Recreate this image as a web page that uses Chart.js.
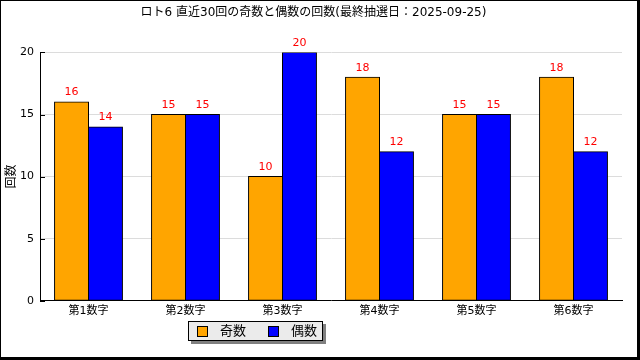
<!DOCTYPE html>
<html>
<head>
<meta charset="utf-8">
<script src="https://cdn.jsdelivr.net/npm/chart.js@4"></script>
<style>
  html, body { margin: 0; padding: 0; background: #fff; }
  #wrap { width: 640px; height: 360px; position: relative; }
</style>
</head>
<body>
<div id="wrap"><canvas id="oddEvenChart"></canvas></div>
<script>
const categories = ['第1数字', '第2数字', '第3数字', '第4数字', '第5数字', '第6数字'];
const oddCounts = [16, 15, 10, 18, 15, 18];
const evenCounts = [14, 15, 20, 12, 15, 12];
const seriesNames = ['奇数', '偶数'];
const yTicks = [0, 5, 10, 15, 20];

const fontFamily = '"DejaVu Sans", "Noto Sans CJK JP", sans-serif';

// red numbers above each bar
const valueLabels = {
    id: 'valueLabels',
    afterDatasetsDraw(chart) {
        const ctx = chart.ctx;
        ctx.save();
        ctx.fillStyle = '#ff0000';
        ctx.font = '11px ' + fontFamily;
        ctx.textAlign = 'center';
        ctx.textBaseline = 'bottom';
        chart.data.datasets.forEach((ds, i) => {
            chart.getDatasetMeta(i).data.forEach((bar, j) => {
                ctx.fillText(ds.data[j], bar.x, bar.y - 4);
            });
        });
        ctx.restore();
    }
};

// frame, boxed legend with shadow, inward y ticks
const decorations = {
    id: 'decorations',
    afterDraw(chart) {
        const ctx = chart.ctx;
        const yScale = chart.scales.y;
        const left = chart.chartArea.left;
        ctx.save();
        ctx.strokeStyle = '#000';
        ctx.lineWidth = 1;
        ctx.beginPath();
        yTicks.forEach(v => {
            const py = Math.round(yScale.getPixelForValue(v)) + 0.5;
            ctx.moveTo(left, py);
            ctx.lineTo(left + 5, py);
        });
        ctx.stroke();

        // legend
        const lx = 188, ly = 321, lw = 135, lh = 20;
        ctx.fillStyle = '#808080';
        ctx.fillRect(lx + 3, ly + 3, lw, lh);
        ctx.fillStyle = '#ebebeb';
        ctx.fillRect(lx, ly, lw, lh);
        ctx.strokeRect(lx + 0.5, ly + 0.5, lw - 1, lh - 1);
        ctx.font = '13px ' + fontFamily;
        ctx.textBaseline = 'middle';
        ctx.textAlign = 'left';
        const boxX = [197, 268];
        chart.data.datasets.forEach((ds, i) => {
            ctx.fillStyle = ds.backgroundColor;
            ctx.fillRect(boxX[i], ly + 5, 11, 11);
            ctx.strokeStyle = '#000';
            ctx.strokeRect(boxX[i] + 0.5, ly + 5.5, 10, 10);
            ctx.fillStyle = '#000';
            ctx.fillText(ds.label, boxX[i] + 23, ly + 11);
        });

        // outer frame
        ctx.strokeRect(0.5, 0.5, 637, 357);
        ctx.fillRect(638, 0, 2, 360);
        ctx.fillRect(0, 358, 640, 2);
        ctx.restore();
    }
};

const data = {
    labels: categories,
    datasets: [{
        label: seriesNames[0],
        data: oddCounts,
        backgroundColor: '#ffa500',
        borderColor: '#000',
        borderWidth: 1,
        borderSkipped: false,
        inflateAmount: 0.5,
        categoryPercentage: 0.7,
        barPercentage: 1.0
    }, {
        label: seriesNames[1],
        data: evenCounts,
        backgroundColor: '#0000ff',
        borderColor: '#000',
        borderWidth: 1,
        borderSkipped: false,
        inflateAmount: 0.5,
        categoryPercentage: 0.7,
        barPercentage: 1.0
    }]
};

const config = {
    type: 'bar',
    data: data,
    plugins: [valueLabels, decorations],
    options: {
        responsive: false,
        animation: false,
        layout: { padding: { left: 5, right: 18, top: 0, bottom: 38 } },
        scales: {
            x: {
                grid: { display: false, drawTicks: false },
                border: { color: '#000', width: 1 },
                ticks: { color: '#000', font: { family: fontFamily, size: 11 }, padding: 4 }
            },
            y: {
                min: 0,
                max: 20,
                afterFit(scale) { scale.width = 35; },
                afterBuildTicks(scale) { scale.ticks = yTicks.map(v => ({ value: v })); },
                grid: { color: '#dcdcdc', drawTicks: false },
                border: { color: '#000', width: 1 },
                title: { display: true, text: '回数', color: '#000', font: { family: fontFamily, size: 12 }, padding: 0 },
                ticks: { color: '#000', font: { family: fontFamily, size: 11 }, padding: 6 }
            }
        },
        plugins: {
            title: {
                display: true,
                text: 'ロト6 直近30回の奇数と偶数の回数(最終抽選日：2025-09-25)',
                color: '#000',
                font: { family: fontFamily, size: 12, weight: 'normal' },
                padding: { top: 6, bottom: 32 }
            },
            legend: { display: false },
            tooltip: { enabled: false }
        }
    }
};

const canvas = document.getElementById('oddEvenChart');
canvas.width = 640;
canvas.height = 360;
new Chart(canvas, config);
</script>
</body>
</html>
